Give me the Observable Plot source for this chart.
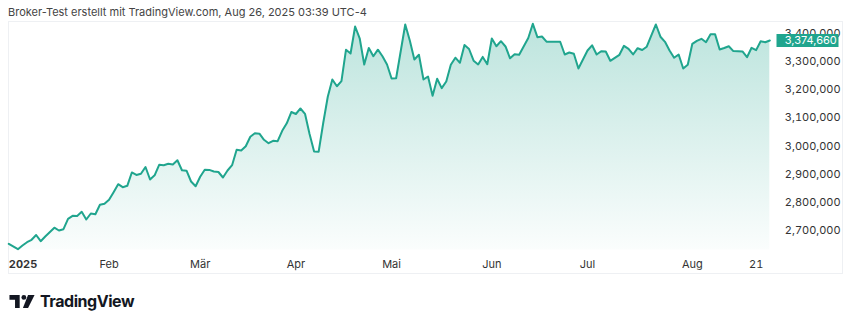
<!DOCTYPE html>
<html>
<head>
<meta charset="utf-8">
<script src="https://cdn.jsdelivr.net/npm/d3@7"></script>
<script src="https://cdn.jsdelivr.net/npm/@observablehq/plot@0.6"></script>
<style>
  html, body { margin: 0; padding: 0; background: #fff; }
  body { width: 850px; height: 322px; position: relative; overflow: hidden; font-family: Inter, "Noto Sans", sans-serif; }
  #title { position: absolute; left: 8px; top: 5px; font-size: 11px; color: #444; white-space: nowrap; letter-spacing: 0; }
  #frame { position: absolute; left: 8px; top: 21px; width: 833px; height: 251px; border: 1px solid #eef0f3; }
  #chart { position: absolute; left: 0; top: 21px; }
  #logo { position: absolute; left: 9px; top: 291px; display: flex; align-items: center; gap: 5px; }
  #logo span { font-size: 16px; font-weight: 700; color: #131722; letter-spacing: -0.45px; }
</style>
</head>
<body>
<div id="title">Broker-Test erstellt mit TradingView.com, Aug 26, 2025 03:39 UTC-4</div>
<div id="frame"></div>
<div id="chart"></div>
<div id="logo">
  <svg width="26" height="13" viewBox="0 0 27 14">
    <path d="M0 0 H11 V14 H6 V5 H0 Z" fill="#131722"/>
    <circle cx="15.5" cy="2.6" r="2.6" fill="#131722"/>
    <path d="M20 0 H27 L20 14 H14.5 Z" fill="#131722"/>
  </svg>
  <span>TradingView</span>
</div>
<script>
// Session number (trading day since Jan 2, 2025) and closing value
const sessions = [0,2,3,4,5,6,7,8,10,11,12,13,14,15,16,17,18,19,20,21,22,23,24,25,26,27,28,29,30,31,32,33,34,35,36,37,38,39,40,41,42,43,44,45,46,47,48,49,50,51,52,53,54,55,56,57,58,59,60,61,62,63,64,65,66,67,68,69,70,71,72,73,74,75,76,77,78,79,80,81,82,83,84,85,87,88,89,90,91,92,93,94,95,96,97,98,99,100,101,102,103,104,105,106,107,108,109,110,111,112,114,115,116,117,118,121,122,123,124,125,127,128,129,130,131,132,134,135,136,137,138,139,140,142,143,144,145,146,147,148,149,150,151,152,153,154,155,156,157,158,159,161,162,163,164,165,166,167];
const closes = [2652800,2633700,2646800,2658500,2667000,2684100,2662100,2678800,2710000,2700100,2704700,2741600,2752200,2751900,2766400,2739100,2760400,2757900,2791300,2794800,2809000,2836000,2864400,2853800,2858700,2906000,2897100,2901300,2925500,2881100,2896000,2933300,2931900,2936800,2934400,2949300,2913800,2912300,2874000,2857000,2890700,2915500,2915200,2909500,2907700,2888200,2913000,2931900,2986900,2984000,2999300,3032700,3045100,3043700,3022000,3010000,3018500,3017100,3054000,3080600,3120700,3113600,3133200,3114300,3042600,2980500,2980000,3081700,3174700,3236100,3212000,3230100,3341900,3328400,3424300,3382400,3289400,3347900,3318800,3341900,3318800,3289400,3239700,3240400,3431400,3374600,3307100,3324100,3236100,3246800,3178200,3238900,3205600,3229000,3288600,3313500,3295400,3358600,3344400,3302800,3289400,3316300,3290400,3381700,3354300,3372100,3353300,3311400,3325600,3324100,3383400,3433800,3386300,3388800,3370300,3370000,3324900,3332000,3327300,3275200,3339100,3357500,3324900,3336600,3335500,3302500,3323800,3355700,3345100,3324900,3347200,3340800,3352500,3431400,3388000,3369900,3339100,3313500,3324900,3275200,3288300,3362800,3373500,3380600,3368500,3396600,3396400,3342600,3347900,3354300,3336900,3335500,3315300,3348600,3340500,3371700,3368200,3374660];
const xTickSessions = [22,42,63,84,106,127,150,164];
const xTickLabels = ["Feb","Mär","Apr","Mai","Jun","Jul","Aug","21"];
const yearTickSession = [0];
const yearTickLabel = ["2025"];
const yTicks = [2700000,2800000,2900000,3000000,3100000,3200000,3300000,3400000];
const yDomain = [2630800, 3442000];

const data = sessions.map((s, i) => ({s, v: closes[i]}));
const last = [data[data.length - 1]];
const fmt = d3.format(",");
const green = "#20a58e";

const defs = () => {
  const ns = "http://www.w3.org/2000/svg";
  const d = document.createElementNS(ns, "defs");
  d.innerHTML = `<linearGradient id="areaGrad" x1="0" y1="0" x2="0" y2="1">
      <stop offset="0" stop-color="${green}" stop-opacity="0.30"/>
      <stop offset="1" stop-color="${green}" stop-opacity="0.02"/>
    </linearGradient>`;
  return d;
};

const boxSymbol = { draw(ctx) { ctx.rect(-31, -6.5, 62, 13); } };

const chart = Plot.plot({
  width: 850,
  height: 253,
  marginLeft: 8.3,
  marginRight: 80.7,
  marginTop: 0,
  marginBottom: 24.5,
  style: { fontFamily: "Inter, 'Noto Sans', sans-serif", background: "transparent", overflow: "visible" },
  x: { type: "linear", domain: [0, 167] },
  y: { domain: yDomain },
  marks: [
    defs,
    Plot.areaY(data, { x: "s", y1: yDomain[0], y2: "v", fill: "url(#areaGrad)" }),
    Plot.lineY(data, { x: "s", y: "v", stroke: green, strokeWidth: 2, strokeLinejoin: "round" }),
    Plot.axisY({ anchor: "right", ticks: yTicks, tickSize: 0, tickPadding: 15, tickFormat: fmt, textAnchor: "start", fontSize: 11, fill: "#333", label: null }),
    Plot.axisX({ ticks: xTickSessions, tickSize: 0, tickPadding: 10, tickFormat: (d) => xTickLabels[xTickSessions.indexOf(d)], fontSize: 11, fill: "#333", label: null }),
    Plot.axisX({ ticks: yearTickSession, tickSize: 0, tickPadding: 10, tickFormat: (d) => yearTickLabel[yearTickSession.indexOf(d)], textAnchor: "start", fontWeight: "bold", fontSize: 11, fill: "#333", label: null }),
    Plot.dot(last, { y: "v", frameAnchor: "right", dx: 37.7, symbol: boxSymbol, fill: green, stroke: "none" }),
    Plot.text(last, { y: "v", frameAnchor: "right", dx: 15, text: (d) => fmt(d.v), textAnchor: "start", fill: "white", fontSize: 11 })
  ]
});
document.getElementById("chart").appendChild(chart);
</script>
</body>
</html>
